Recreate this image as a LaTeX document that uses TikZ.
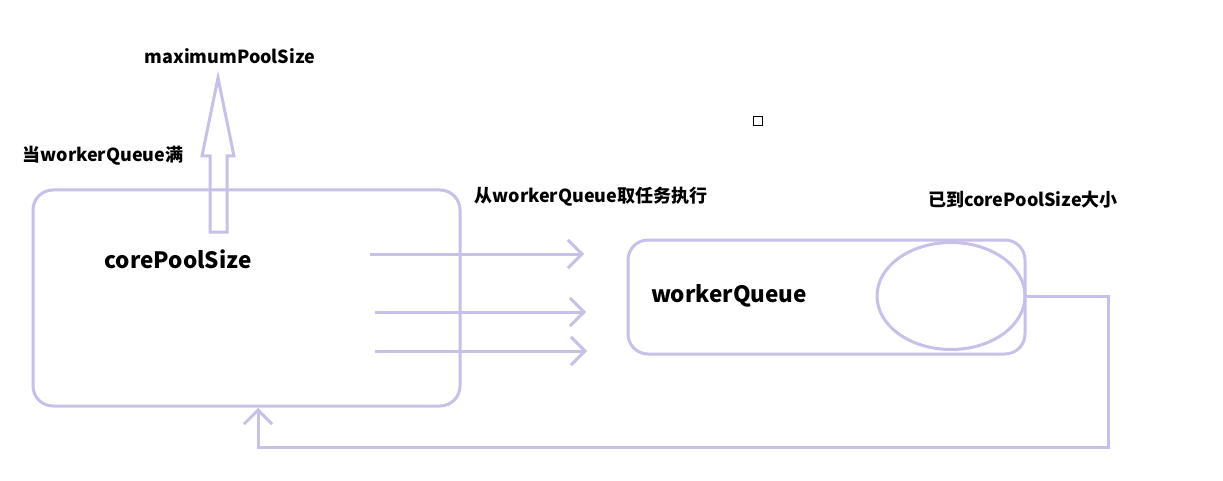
\documentclass[tikz,border=0pt]{standalone}
\usepackage{fontspec}
\setmainfont{Noto Sans CJK SC}
\usetikzlibrary{arrows.meta,shapes.geometric}
\definecolor{lav}{RGB}{200,192,232}
\tikzset{
  box/.style={draw=lav,line width=3pt,rounded corners=20pt},
  conn/.style={draw=lav,line width=3pt},
  arr/.style={conn,-{Straight Barb[length=14pt,width=28pt,line width=3pt]}},
  lbl/.style={font=\fontsize{18}{18}\selectfont\bfseries,inner sep=0pt},
  big/.style={font=\fontsize{22.5}{22.5}\selectfont\bfseries,inner sep=0pt}
}
\begin{document}
\begin{tikzpicture}[x=1pt,y=-1pt]
\useasboundingbox[fill=white] (0,0) rectangle (1223,481);
% core box
\draw[box] (33,190) rectangle (460,406);
% hollow arrow
\draw[conn,line join=miter] (210,232) -- (210,156) -- (202,156) -- (218,78) -- (234,156) -- (227,156) -- (227,232) -- cycle;
\node[lbl] (maxps) at (230,56) {maximumPoolSize};
\node[lbl] (full) at (103,156) {当workerQueue满};
\node[big] (cps) at (178,259) {corePoolSize};
\node[lbl] (take) at (591,197) {从workerQueue取任务执行};
\node[lbl] (reached) at (1023,200) {已到corePoolSize大小};
% queue
\draw[box] (628,240) rectangle (1025,354);
\node[big] (wq) at (729,296) {workerQueue};
\node[draw=lav,line width=3pt,ellipse,minimum width=148pt,minimum height=107pt,inner sep=0pt] (ell) at (951,296) {};
% small square
\node[draw=black,line width=1pt,minimum size=9pt,inner sep=0pt] (sq) at (758,121) {};
% three arrows
\coordinate (a1s) at (370,254); \coordinate (a1e) at (584,254);
\coordinate (a2s) at (375,312); \coordinate (a2e) at (586,312);
\coordinate (a3s) at (375,351); \coordinate (a3e) at (587,351);
\draw[arr] (a1s) -- (a1e);
\draw[arr] (a2s) -- (a2e);
\draw[arr] (a3s) -- (a3e);
% feedback
\coordinate (c1) at (1108,296);
\coordinate (c2) at (1108,447);
\coordinate (c3) at (258,447);
\coordinate (fb) at (258,408);
\draw[arr,line join=miter] (ell.east) -- (c1) -- (c2) -- (c3) -- (fb);
\end{tikzpicture}
\end{document}
